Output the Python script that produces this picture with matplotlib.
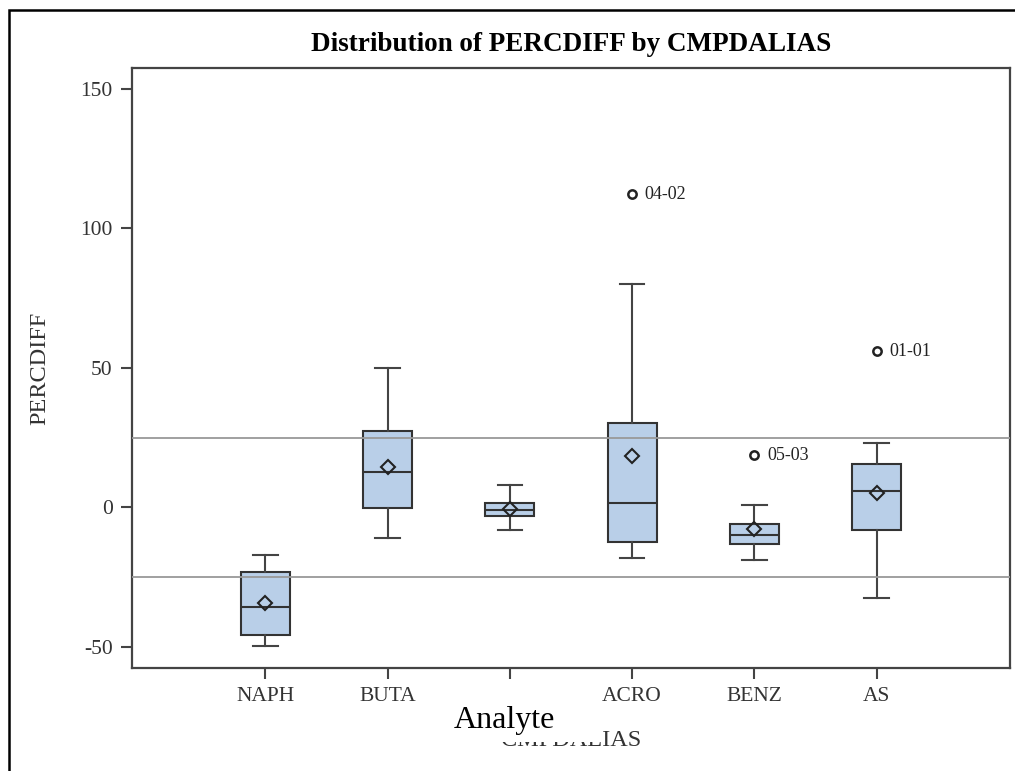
import matplotlib.pyplot as plt
from matplotlib.patches import Rectangle

plt.rcParams['font.family'] = ['Liberation Serif', 'DejaVu Serif']
plt.rcParams['axes.unicode_minus'] = False

# box statistics
categories = ['NAPH', 'BUTA', '', 'ACRO', 'BENZ', 'AS']
q1 = [-45.9, -0.1, -3.0, -12.4, -13.3, -8.1]
medians = [-35.9, 12.7, -1.0, 1.5, -9.8, 5.9]
q3 = [-23.3, 27.4, 1.7, 30.4, -5.9, 15.6]
whis_lo = [-49.6, -11.1, -8.3, -18.2, -18.8, -32.6]
whis_hi = [-17.1, 50.0, 8.1, 80.0, 1.0, 23.0]
means = [-34.3, 14.6, -0.6, 18.4, -7.8, 5.1]
# outliers: category index -> values and their labels
outlier_values = {3: [112.2], 4: [18.7], 5: [55.9]}
outlier_labels = {3: ['04-02'], 4: ['05-03'], 5: ['01-01']}
ref_lines = [25, -25]

positions = list(range(1, len(categories) + 1))

stats = []
for i in range(len(categories)):
    stats.append({
        'q1': q1[i], 'med': medians[i], 'q3': q3[i],
        'whislo': whis_lo[i], 'whishi': whis_hi[i], 'mean': means[i],
        'fliers': outlier_values.get(i, []),
    })

fig = plt.figure(figsize=(10.15, 7.71), dpi=100)
ax = fig.add_axes([132 / 1015, 1 - 668 / 771, 878 / 1015, 600 / 771])

ax.bxp(stats, positions=positions, widths=0.40, capwidths=0.20,
       showmeans=True, patch_artist=True,
       boxprops=dict(facecolor='#b9cfe8', edgecolor='#333333', linewidth=1.5),
       medianprops=dict(color='#333333', linewidth=1.5),
       whiskerprops=dict(color='#444444', linewidth=1.5),
       capprops=dict(color='#444444', linewidth=1.5),
       meanprops=dict(marker='D', markerfacecolor='none', markeredgecolor='#222222',
                      markersize=7.5, markeredgewidth=1.5),
       flierprops=dict(marker='o', markerfacecolor='none', markeredgecolor='#222222',
                       markersize=6, markeredgewidth=1.8))

# reference lines
for r in ref_lines:
    ax.axhline(r, color='#999999', linewidth=1.3, zorder=5)

# outlier labels
for i, vals in outlier_values.items():
    for v, lab in zip(vals, outlier_labels[i]):
        ax.annotate(lab, (positions[i], v), xytext=(9, 0), textcoords='offset points',
                    va='center', ha='left', fontsize=13, color='#222222')

ax.set_xlim(-0.09, 7.09)
ax.set_ylim(-57.6, 157.5)
ax.set_xticks(positions)
ax.set_xticklabels(categories)
ax.set_yticks([-50, 0, 50, 100, 150])

for s in ax.spines.values():
    s.set_color('#444444')
    s.set_linewidth(1.6)
ax.tick_params(length=8, width=1.5, color='#444444', pad=6, labelsize=15.5,
               labelcolor='#333333')

ax.set_title('Distribution of PERCDIFF by CMPDALIAS', fontsize=19.5, fontweight='bold', pad=12)
ax.set_ylabel('PERCDIFF', fontsize=17.5, color='#333333')
ax.set_xlabel('CMPDALIAS', fontsize=17.5, color='#333333')
ax.yaxis.set_label_coords(-0.0934, 0.5)
ax.xaxis.set_label_coords(0.5, -0.104)

# white patch with "Analyte" pasted over the axis label
fig.patches.append(Rectangle((405 / 1015, 1 - 742 / 771), 197 / 1015, 30 / 771,
                             transform=fig.transFigure, facecolor='white',
                             edgecolor='none', zorder=10))
fig.text(504.5 / 1015, 1 - 728 / 771, 'Analyte', fontsize=23, ha='center',
         va='baseline', color='black', zorder=11)

# outer frame
fig.patches.append(Rectangle((9 / 1015, -0.1), 1.2, 1.1 - 10 / 771,
                             transform=fig.transFigure, facecolor='none',
                             edgecolor='black', linewidth=1.8, clip_on=False))

plt.savefig('out.png', dpi=100)
